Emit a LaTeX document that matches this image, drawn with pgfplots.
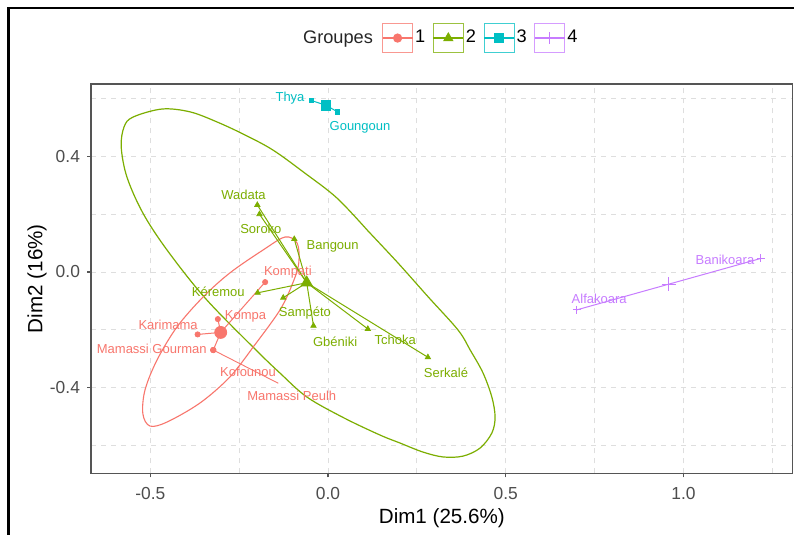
\documentclass[border=0pt]{standalone}
\usepackage{pgfplots}
\pgfplotsset{compat=1.18}
\usepackage{fontspec}
\setmainfont{Liberation Sans}
\definecolor{gA}{HTML}{F8766D}
\definecolor{gB}{HTML}{7CAE00}
\definecolor{gC}{HTML}{00BFC4}
\definecolor{gD}{HTML}{C77CFF}
\definecolor{gridc}{HTML}{DEDEDE}
\definecolor{axc}{HTML}{555555}
\definecolor{tickc}{HTML}{4D4D4D}
\begin{document}
\begin{tikzpicture}[x=1pt,y=1pt]
\useasboundingbox (0,0) rectangle (397,267.5);
\fill[white] (0,0) rectangle (397,267.5);
\draw[black, line width=1.4pt] (4.35,-5) -- (4.35,263.5) -- (410,263.5);
\begin{axis}[
  at={(45.5pt,30.85pt)}, anchor=south west,
  scale only axis, width=350.85pt, height=194.65pt,
  xmin=-0.667, xmax=1.3075, ymin=-0.6965, ymax=0.6505,
  xtick={-0.5,0,0.5,1}, xticklabels={-0.5,0.0,0.5,1.0},
  ytick={-0.4,0,0.4}, yticklabels={-0.4,0.0,0.4},
  minor xtick={-0.25,0.25,0.75,1.25}, minor ytick={-0.6,-0.2,0.2,0.6},
  grid=both,
  major grid style={gridc, dash pattern=on 2.5pt off 2.5pt, line width=0.5pt},
  minor grid style={gridc, dash pattern=on 2.5pt off 2.5pt, line width=0.45pt},
  axis line style={axc, line width=0.7pt},
  tick style={axc, line width=0.6pt},
  tick align=outside, major tick length=2pt, minor tick length=0pt,
  tick pos=left,
  ticklabel style={font=\fontsize{8.7}{10}\selectfont, text=tickc},
  xticklabel style={yshift=-1.5pt},
  xlabel={Dim1 (25.6\%)}, ylabel={Dim2 (16\%)},
  label style={font=\fontsize{10.3}{12}\selectfont},
  xlabel style={at={(axis description cs:0.5,-0.1148)}, anchor=center},
  ylabel style={at={(axis description cs:-0.077,0.5)}, anchor=center},
  legend columns=4,
  legend style={at={(axis description cs:0.4147,1.118)}, anchor=west,
    draw=none, fill=none, inner sep=0pt, outer sep=0pt,
    font=\fontsize{9.1}{10}\selectfont,
    nodes={inner sep=1pt},
    /tikz/every even column/.append style={column sep=2.7pt}},
  legend image code/.code={%
    \draw[line width=0.5pt, draw opacity=0.75] (0pt,-7.2pt) rectangle (15pt,7.2pt);
    \draw[mark repeat=2, mark phase=2] plot coordinates {(0pt,0pt) (7.5pt,0pt) (15pt,0pt)};
  },
]
% legend entries
\addlegendimage{gA, line width=0.6pt, mark=*, mark size=2pt}
\addlegendentry{1}
\addlegendimage{gB, line width=0.6pt, mark=triangle*, mark size=2.4pt}
\addlegendentry{2}
\addlegendimage{gC, line width=0.6pt, mark=square*, mark size=2pt}
\addlegendentry{3}
\addlegendimage{gD, line width=0.6pt, mark=+, mark size=3pt}
\addlegendentry{4}

% ---- ellipses
\addplot[gB, line width=0.6pt, smooth, tension=0.55] coordinates {
(0.111,0.144) (0.197,0.031) (0.281,-0.085) (0.366,-0.201) (0.400,-0.270) (0.436,-0.349)
(0.461,-0.433) (0.470,-0.502) (0.461,-0.557) (0.428,-0.609) (0.380,-0.637)
(0.324,-0.640) (0.267,-0.623) (0.203,-0.592) (0.146,-0.564) (0.045,-0.505) (-0.059,-0.433)
(-0.135,-0.350) (-0.211,-0.260) (-0.346,-0.090) (-0.453,0.076) (-0.521,0.204) (-0.566,0.329)
(-0.582,0.433) (-0.574,0.502) (-0.549,0.536) (-0.467,0.564) (-0.388,0.554)
(-0.312,0.519) (-0.235,0.475) (-0.155,0.422) (-0.065,0.342) (0.025,0.256) (0.111,0.144)};
\addplot[gA, line width=0.55pt, smooth, tension=0.55] coordinates {
(-0.211,-0.260) (-0.276,-0.363) (-0.360,-0.453) (-0.453,-0.519) (-0.501,-0.533)
(-0.521,-0.491) (-0.515,-0.408) (-0.481,-0.304) (-0.425,-0.190) (-0.352,-0.087)
(-0.276,-0.003) (-0.183,0.076) (-0.121,0.121) (-0.087,0.100) (-0.082,0.035)
(-0.096,-0.028) (-0.135,-0.131) (-0.211,-0.260)};

% ---- group 1 stars
\addplot[gA, line width=0.5pt] coordinates {(-0.302,-0.209) (-0.177,-0.035)};
\addplot[gA, line width=0.5pt] coordinates {(-0.302,-0.209) (-0.310,-0.163)};
\addplot[gA, line width=0.5pt] coordinates {(-0.302,-0.209) (-0.367,-0.216)};
\addplot[gA, line width=0.5pt] coordinates {(-0.302,-0.209) (-0.323,-0.270)};
\addplot[gA, line width=0.45pt] coordinates {(-0.323,-0.270) (-0.140,-0.385)};
\addplot[gA, only marks, mark=*, mark size=1.3pt] coordinates {
(-0.177,-0.035) (-0.310,-0.163) (-0.367,-0.216) (-0.323,-0.270) (-0.323,-0.270) (-0.323,-0.270)};
\addplot[gA, only marks, mark=*, mark size=3pt] coordinates {(-0.302,-0.209)};

% ---- group 2 stars
\addplot[gB, line width=0.5pt] coordinates {(-0.060,-0.037) (-0.199,0.232)};
\addplot[gB, line width=0.5pt] coordinates {(-0.060,-0.037) (-0.193,0.200)};
\addplot[gB, line width=0.5pt] coordinates {(-0.060,-0.037) (-0.095,0.114)};
\addplot[gB, line width=0.5pt] coordinates {(-0.060,-0.037) (-0.198,-0.072)};
\addplot[gB, line width=0.5pt] coordinates {(-0.060,-0.037) (-0.126,-0.089)};
\addplot[gB, line width=0.5pt] coordinates {(-0.060,-0.037) (-0.041,-0.186)};
\addplot[gB, line width=0.5pt] coordinates {(-0.060,-0.037) (0.112,-0.197)};
\addplot[gB, line width=0.5pt] coordinates {(-0.060,-0.037) (0.281,-0.295)};
\addplot[gB, only marks, mark=triangle*, mark size=1.5pt] coordinates {
(-0.199,0.232) (-0.193,0.200) (-0.095,0.114) (-0.198,-0.072) (-0.126,-0.089)
(-0.041,-0.186) (0.112,-0.197) (0.281,-0.295)};
\addplot[gB, only marks, mark=triangle*, mark size=3.3pt] coordinates {(-0.060,-0.037)};

% ---- group 3
\addplot[gC, line width=0.5pt] coordinates {(-0.046,0.593) (-0.006,0.577) (0.027,0.554)};
\addplot[gC, only marks, mark=square*, mark size=1.1pt] coordinates {(-0.046,0.593) (0.027,0.554)};
\addplot[gC, only marks, mark=square*, mark size=2.4pt] coordinates {(-0.006,0.577)};

% ---- group 4
\addplot[gD, line width=0.5pt] coordinates {(0.700,-0.131) (0.959,-0.042) (1.218,0.047)};
\addplot[gD, only marks, mark=+, mark size=2pt, mark options={line width=0.5pt}] coordinates {(0.700,-0.131) (1.218,0.047)};
\addplot[gD, only marks, mark=+, mark size=3.5pt, mark options={line width=0.55pt}] coordinates {(0.959,-0.042)};

% ---- labels
\tikzset{lab/.style={font=\fontsize{6.5}{7}\selectfont, inner sep=0pt}}
\node[lab, text=gA] at (axis cs:-0.113,0.001) {Kompati};
\node[lab, text=gA] at (axis cs:-0.232,-0.155) {Kompa};
\node[lab, text=gA] at (axis cs:-0.450,-0.183) {Karimama};
\node[lab, text=gA] at (axis cs:-0.496,-0.266) {Mamassi Gourman};
\node[lab, text=gA] at (axis cs:-0.225,-0.345) {Kofounou};
\node[lab, text=gA] at (axis cs:-0.102,-0.428) {Mamassi Peulh};
\node[lab, text=gB] at (axis cs:-0.238,0.266) {Wadata};
\node[lab, text=gB] at (axis cs:-0.189,0.148) {Soroko};
\node[lab, text=gB] at (axis cs:0.013,0.088) {Bangoun};
\node[lab, text=gB] at (axis cs:-0.309,-0.068) {Kéremou};
\node[lab, text=gB] at (axis cs:-0.065,-0.143) {Sampéto};
\node[lab, text=gB] at (axis cs:0.020,-0.241) {Gbéniki};
\node[lab, text=gB] at (axis cs:0.189,-0.235) {Tchoka};
\node[lab, text=gB] at (axis cs:0.332,-0.348) {Serkalé};
\node[lab, text=gC] at (axis cs:-0.107,0.601) {Thya};
\node[lab, text=gC] at (axis cs:0.090,0.502) {Goungoun};
\node[lab, text=gD] at (axis cs:0.763,-0.094) {Alfakoara};
\node[lab, text=gD] at (axis cs:1.117,0.042) {Banikoara};
\end{axis}
\node[anchor=base, font=\fontsize{9.1}{10}\selectfont, text=black!85] at (169pt,245.75pt) {Groupes};
\end{tikzpicture}
\end{document}
